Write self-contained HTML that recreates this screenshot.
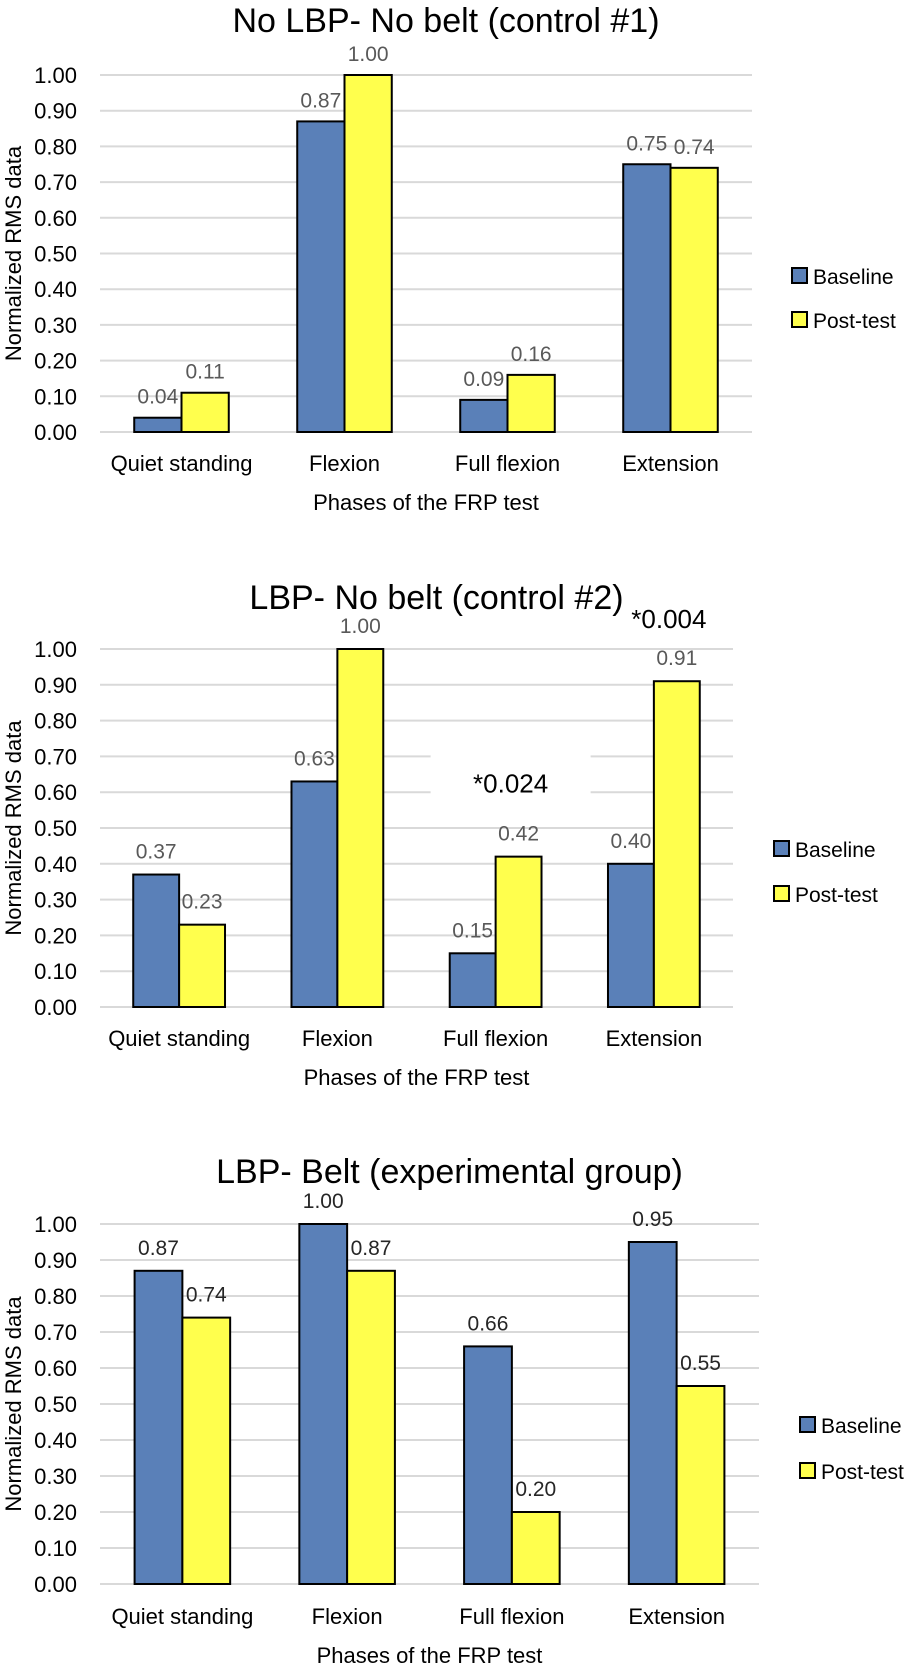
<!DOCTYPE html>
<html><head><meta charset="utf-8">
<style>
html,body{margin:0;padding:0;background:#fff;}
svg{display:block;font-family:"Liberation Sans",sans-serif;}
</style></head>
<body>
<svg id="chart" width="908" height="1667" viewBox="0 0 908 1667" xmlns="http://www.w3.org/2000/svg"></svg>
<script>
const categories = ["Quiet standing", "Flexion", "Full flexion", "Extension"];
const seriesNames = ["Baseline", "Post-test"];
const tickLabels = ["0.00","0.10","0.20","0.30","0.40","0.50","0.60","0.70","0.80","0.90","1.00"];
const tickValues = [0,0.1,0.2,0.3,0.4,0.5,0.6,0.7,0.8,0.9,1.0];
const titles = ["No LBP- No belt (control #1)", "LBP- No belt (control #2)", "LBP- Belt (experimental group)"];
const baseline1 = [0.04, 0.87, 0.09, 0.75];
const post1 = [0.11, 1.00, 0.16, 0.74];
const baseline2 = [0.37, 0.63, 0.15, 0.40];
const post2 = [0.23, 1.00, 0.42, 0.91];
const baseline3 = [0.87, 1.00, 0.66, 0.95];
const post3 = [0.74, 0.87, 0.20, 0.55];
const annotations2 = [{cat: 2, text: "*0.024"}, {cat: 3, text: "*0.004"}];

const svg = document.getElementById('chart');
const NS = "http://www.w3.org/2000/svg";
function mk(tag, attrs, text){
  const e = document.createElementNS(NS, tag);
  for (const k in attrs) e.setAttribute(k, attrs[k]);
  if (text !== undefined) e.textContent = text;
  svg.appendChild(e);
  return e;
}
const annOffsets = [64, 53];
const layouts = [
  {left:100,right:752,top:75,bottom:432,titleY:32,catY:471,axY:510,legY:[276,320],legX:792,lblColor:"#595959",lblOff:22},
  {left:100,right:733,top:649,bottom:1007,titleY:609,catY:1046,axY:1085,legY:[849,894],legX:774,lblColor:"#595959",lblOff:24},
  {left:100,right:759,top:1224,bottom:1584,titleY:1183,catY:1624,axY:1663,legY:[1425,1471],legX:800,lblColor:"#262626",lblOff:24}
];
const data = [[baseline1,post1],[baseline2,post2],[baseline3,post3]];
const colors = ["#5a80b8","#ffff4d"];

layouts.forEach((L, ci) => {
  const y = v => L.bottom - v*(L.bottom-L.top);
  const bw = (L.right-L.left)/categories.length;
  const cx = i => L.left + bw*(i+0.5);
  const barW = bw*0.29;
  tickValues.forEach((v,i)=>{
    let g = mk('line',{x1:L.left,x2:L.right,y1:y(v),y2:y(v),stroke:'#d9d9d9','stroke-width':2});
     
    let t = mk('text',{x:77,y:y(v)+8,'text-anchor':'end','font-size':22,fill:'#000'},tickLabels[i]);
     
  });
  if (ci===1){
    annotations2.forEach((a,ai)=>{
      const maxV = Math.max(data[1][0][a.cat], data[1][1][a.cat]);
      const ty = y(maxV)-annOffsets[ai];
      if (ty-40 > L.top) {
        let bg = mk('rect',{x:cx(a.cat)+15-80,y:ty-40,width:160,height:50,fill:'#fff'});
         
      }
    });
  }
  let e = mk('text',{x:(L.left+L.right)/2+20,y:L.titleY,'text-anchor':'middle','font-size':34,fill:'#000'},titles[ci]);
   
  const my = (L.top+L.bottom)/2;
  let yt = mk('text',{x:0,y:0,'text-anchor':'middle','font-size':22,fill:'#000',transform:`translate(21,${my}) rotate(-90)`},"Normalized RMS data");
   
  categories.forEach((c,i)=>{
    data[ci].forEach((s,si)=>{
      const x0 = si===0 ? cx(i)-barW : cx(i);
      let r = mk('rect',{x:x0,y:y(s[i]),width:barW,height:L.bottom-y(s[i]),fill:colors[si],stroke:'#000','stroke-width':2});
      
      
      let l = mk('text',{x:x0+barW/2,y:y(s[i])-L.lblOff+8,'text-anchor':'middle','font-size':21,fill:L.lblColor},s[i].toFixed(2));
       
    });
    let t = mk('text',{x:cx(i),y:L.catY,'text-anchor':'middle','font-size':22,fill:'#000'},c);
     
  });
  let xt = mk('text',{x:(L.left+L.right)/2,y:L.axY,'text-anchor':'middle','font-size':22,fill:'#000'},"Phases of the FRP test");
   
  seriesNames.forEach((n,si)=>{
    let b = mk('rect',{x:L.legX,y:L.legY[si]-8,width:15,height:15,fill:colors[si],stroke:'#000','stroke-width':2});
     
    let t = mk('text',{x:L.legX+21,y:L.legY[si]+8,'font-size':21,fill:'#000'},n);
     
  });
  if (ci===1){
    annotations2.forEach((a,ai)=>{
      const maxV = Math.max(data[1][0][a.cat], data[1][1][a.cat]);
      let t = mk('text',{x:cx(a.cat)+15,y:y(maxV)-annOffsets[ai],'text-anchor':'middle','font-size':26,fill:'#000'},a.text);
       
    });
  }
});
</script>
</body></html>
